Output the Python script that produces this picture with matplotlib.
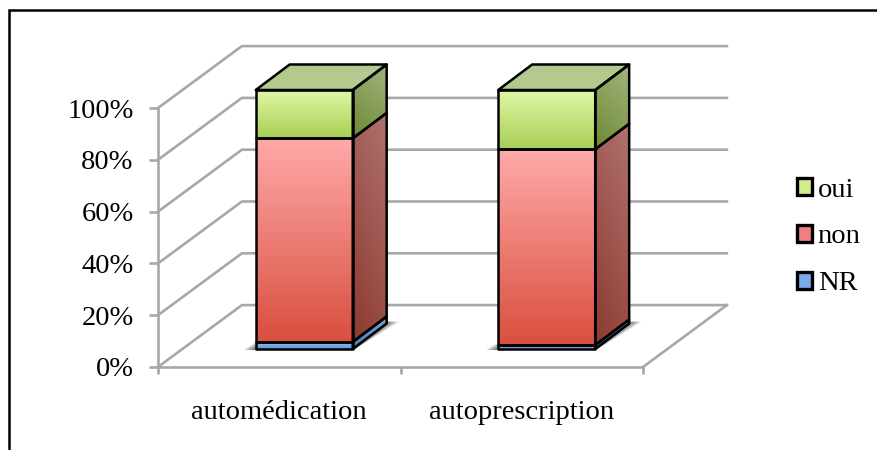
import numpy as np
import matplotlib
matplotlib.use('Agg')
import matplotlib.pyplot as plt
from matplotlib.colors import to_rgb
from matplotlib.lines import Line2D
from matplotlib.patches import Patch, Polygon

categories = ['automédication', 'autoprescription']
series_names = ['NR', 'non', 'oui']
nr_values = [2.7, 1.5]
non_values = [78.6, 75.6]
oui_values = [18.7, 22.9]
y_ticks = [0, 20, 40, 60, 80, 100]
y_labels = ['0%', '20%', '40%', '60%', '80%', '100%']

GRAY = '#a8a8a8'
LINE_W = 1.9
FONT = 'Liberation Serif'
FONT_SIZE = 20.5

# (front top, front bottom, side top, side bottom)
COLORS = {
    'oui': ('#e0f8a6', '#a9cf55', '#a3b47d', '#6d8a35'),
    'non': ('#ffa9a9', '#d9503f', '#b1726e', '#8c3a31'),
    'NR': ('#8fbaf0', '#5f96dc', '#74a3dd', '#4a7cbc'),
}
LEGEND_COLORS = {'oui': '#d2ec90', 'non': '#ee8080', 'NR': '#79a9e8'}
TOP_COLOR = '#b3c98e'

# 3d look of the old office chart, in data units
WALL_DX, WALL_DY = 0.346, 23.9
BAR_WIDTH = 0.40
BAR_SHIFT_X, BAR_BASE = 0.103, 6.95
BAR_DX, BAR_DY = 0.14, 9.85

fig = plt.figure(figsize=(8.77, 4.5), dpi=100, facecolor='white')
ax = fig.add_axes([158 / 877, 83 / 450, 485 / 877, 259 / 450])
ax.patch.set_visible(False)
ax.set_xlim(0, 2)
ax.set_ylim(0, 100)


def grad_fill(points, c_start, c_end, diagonal=False, zorder=3):
    """Fill a polygon with a linear gradient, c_start is the upper end."""
    points = np.array(points)
    poly = Polygon(points, closed=True, fc='none', ec='none', zorder=zorder, clip_on=False)
    ax.add_patch(poly)
    v, u = np.mgrid[0:1:48j, 0:1:48j]
    t = 1 - v
    if diagonal:
        t = np.clip((1 - v) * 0.7 + (1 - u) * 0.3, 0, 1)
    rgb = np.array(to_rgb(c_start)) * (1 - t[..., None]) + np.array(to_rgb(c_end)) * t[..., None]
    im = ax.imshow(rgb, origin='lower', aspect='auto', interpolation='bilinear', zorder=zorder,
                   extent=(points[:, 0].min(), points[:, 0].max(),
                           points[:, 1].min(), points[:, 1].max()))
    # the box goes above the axes, so only the polygon may clip it
    im.set_clip_box(fig.bbox)
    im.set_clip_path(poly)


def outline(points, zorder=4):
    ax.add_patch(Polygon(points, closed=True, fc='none', ec='black', lw=1.8,
                         joinstyle='round', zorder=zorder, clip_on=False))


# walls and floor
for val in y_ticks:
    ax.plot([0, WALL_DX, 2 + WALL_DX], [val, val + WALL_DY, val + WALL_DY],
            color=GRAY, lw=LINE_W, zorder=1, clip_on=False)
ax.plot([2, 2 + WALL_DX], [0, WALL_DY], color=GRAY, lw=LINE_W, zorder=1, clip_on=False)

# bars
for i, cat in enumerate(categories):
    x0 = i + 0.5 + BAR_SHIFT_X - BAR_WIDTH / 2
    x1 = x0 + BAR_WIDTH

    # soft shadow on the floor
    for k in range(1, 9):
        grow = 0.0065 * k
        ax.add_patch(Polygon(
            [(x0 - grow, BAR_BASE - 0.4), (x1 + 0.004, BAR_BASE - 0.4),
             (x1 + BAR_DX + grow, BAR_BASE + BAR_DY + 0.7), (x0 + BAR_DX, BAR_BASE + BAR_DY + 0.7)],
            closed=True, fc='black', ec='none', alpha=0.09, zorder=2, clip_on=False))

    bottom = BAR_BASE
    for name, vals in zip(series_names, (nr_values, non_values, oui_values)):
        top = bottom + vals[i]
        front_top, front_bot, side_top, side_bot = COLORS[name]
        side = [(x1, bottom), (x1 + BAR_DX, bottom + BAR_DY), (x1 + BAR_DX, top + BAR_DY), (x1, top)]
        grad_fill(side, side_top, side_bot, diagonal=True)
        outline(side)
        front = [(x0, bottom), (x1, bottom), (x1, top), (x0, top)]
        grad_fill(front, front_top, front_bot)
        outline(front, zorder=5)
        bottom = top

    lid = [(x0, bottom), (x1, bottom), (x1 + BAR_DX, bottom + BAR_DY), (x0 + BAR_DX, bottom + BAR_DY)]
    ax.add_patch(Polygon(lid, closed=True, fc=TOP_COLOR, ec='none', zorder=3, clip_on=False))
    outline(lid)

# axes
for spine in ('top', 'right'):
    ax.spines[spine].set_visible(False)
for spine in ('left', 'bottom'):
    ax.spines[spine].set_color(GRAY)
    ax.spines[spine].set_linewidth(LINE_W)
    ax.spines[spine].set_zorder(1)

ax.set_yticks(y_ticks)
ax.set_yticklabels(y_labels, fontsize=FONT_SIZE, family=FONT, color='black')
ax.tick_params(axis='y', length=6.5, width=LINE_W, color=GRAY, pad=11)
ax.set_xticks([0, 1, 2])
ax.set_xticklabels([])
ax.tick_params(axis='x', which='major', length=5, width=LINE_W, color=GRAY)
ax.set_xticks([0.5, 1.5], minor=True)
ax.set_xticklabels(categories, minor=True, fontsize=FONT_SIZE, family=FONT, color='black')
ax.tick_params(axis='x', which='minor', length=0, pad=24)

# legend
handles = [Patch(facecolor=LEGEND_COLORS[name], edgecolor='black', linewidth=2.4, label=name)
           for name in reversed(series_names)]
ax.legend(handles=handles, loc='center left', bbox_to_anchor=(797 / 877, 1 - 237 / 450),
          bbox_transform=fig.transFigure, frameon=False, borderpad=0, borderaxespad=0,
          handlelength=0.53, handleheight=0.53, handletextpad=0.2, labelspacing=0.77,
          prop={'family': FONT, 'size': FONT_SIZE})

# frame of the pasted picture, only left and top are visible
fig.add_artist(Line2D([9 / 877, 9 / 877, 1], [0, 1 - 10 / 450, 1 - 10 / 450],
                      color='black', lw=1.8, solid_joinstyle='miter'))

fig.savefig('out.png', dpi=100, facecolor='white')
plt.close(fig)
